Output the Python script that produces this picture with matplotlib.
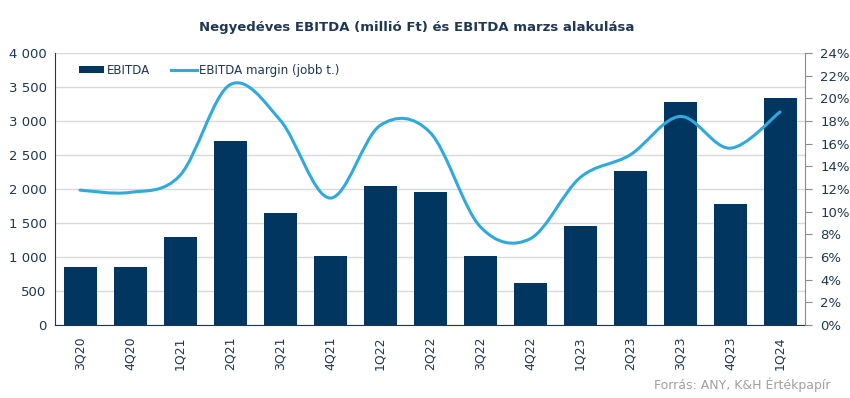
import matplotlib
matplotlib.use("Agg")
import matplotlib.pyplot as plt
from matplotlib.path import Path
from matplotlib.patches import PathPatch
from matplotlib.lines import Line2D
from matplotlib.patches import Patch
from matplotlib.ticker import FuncFormatter, MultipleLocator
import numpy as np

categories = ["3Q20", "4Q20", "1Q21", "2Q21", "3Q21", "4Q21", "1Q22", "2Q22",
              "3Q22", "4Q22", "1Q23", "2Q23", "3Q23", "4Q23", "1Q24"]
ebitda = [860, 860, 1300, 2700, 1650, 1020, 2050, 1950, 1020, 620, 1450, 2270, 3280, 1780, 3340]
margin = [11.9, 11.7, 13.2, 21.2, 18.1, 11.2, 17.6, 17.0, 8.7, 7.6, 13.0, 15.0, 18.4, 15.6, 18.8]

title = "Negyedéves EBITDA (millió Ft) és EBITDA marzs alakulása"
source = "Forrás: ANY, K&H Értékpapír"

BAR = "#00365F"
LINE = "#30A9DE"
TXT = "#1F3654"
GRID = "#D9D9D9"

plt.rcParams['font.family'] = ['DejaVu Sans']

fig = plt.figure(figsize=(8.5, 3.98), dpi=100)
ax = fig.add_axes([55/850, 1-325/398, 750/850, 272/398])
ax2 = ax.twinx()

x = np.arange(len(categories))
ax.bar(x, ebitda, width=0.66, color=BAR, zorder=2)
ax.set_xlim(-0.5, len(categories) - 0.5)
ax.set_ylim(0, 4000)
ax.yaxis.set_major_locator(MultipleLocator(500))
ax.yaxis.set_major_formatter(FuncFormatter(lambda v, p: f"{int(v):,}".replace(",", " ")))
ax.grid(axis="y", color=GRID, linewidth=1, zorder=0)
ax.set_axisbelow(True)
ax.set_xticks(x)
ax.set_xticklabels(categories, rotation=90, fontsize=9, color=TXT)
ax.tick_params(axis="x", length=0, pad=8)
ax.tick_params(axis="y", length=0, labelsize=9.5, labelcolor=TXT, pad=6)
for s in ["top", "right"]:
    ax.spines[s].set_visible(False)
ax.spines["left"].set_color("#1F3654")
ax.spines["bottom"].set_color("#1F3654")

# smoothed margin line (Excel-like Bezier smoothing through data points)
pts = np.column_stack([x.astype(float), np.array(margin, dtype=float)])
verts = [tuple(pts[0])]
codes = [Path.MOVETO]
n = len(pts)
for i in range(n - 1):
    p0 = pts[i - 1] if i > 0 else pts[i]
    p1 = pts[i]
    p2 = pts[i + 1]
    p3 = pts[i + 2] if i + 2 < n else pts[i + 1]
    c1 = p1 + (p2 - p0) / 6.0
    c2 = p2 - (p3 - p1) / 6.0
    verts += [tuple(c1), tuple(c2), tuple(p2)]
    codes += [Path.CURVE4, Path.CURVE4, Path.CURVE4]
ax2.add_patch(PathPatch(Path(verts, codes), facecolor="none", edgecolor=LINE,
                        linewidth=2.2, capstyle="round", zorder=3))
ax2.set_ylim(0, 24)
ax2.yaxis.set_major_locator(MultipleLocator(2))
ax2.yaxis.set_major_formatter(FuncFormatter(lambda v, p: f"{int(round(v))}%"))
ax2.tick_params(axis="y", direction="out", length=5, color="#8C8C8C",
                labelsize=9.5, labelcolor=TXT, pad=6)
for s in ["top", "left", "bottom"]:
    ax2.spines[s].set_visible(False)
ax2.spines["right"].set_color("#8C8C8C")

handles = [Patch(facecolor=BAR, edgecolor="none"),
           Line2D([0], [0], color=LINE, linewidth=2.2)]
leg = ax.legend(handles, ["EBITDA", "EBITDA margin (jobb t.)"], loc="upper left",
                ncol=2, frameon=False, fontsize=8.6, bbox_to_anchor=(0.018, 1.0),
                handlelength=2.1, handleheight=0.6, handletextpad=0.2,
                columnspacing=1.8, labelcolor=TXT)

fig.text(417/850, 1-27/398, title, ha="center", va="center", fontsize=9.5,
         fontweight="bold", color=TXT)
fig.text(830/850, 1-385/398, source, ha="right", va="center", fontsize=9,
         color="#A0A0A0")

fig.savefig("out.png", dpi=100)
